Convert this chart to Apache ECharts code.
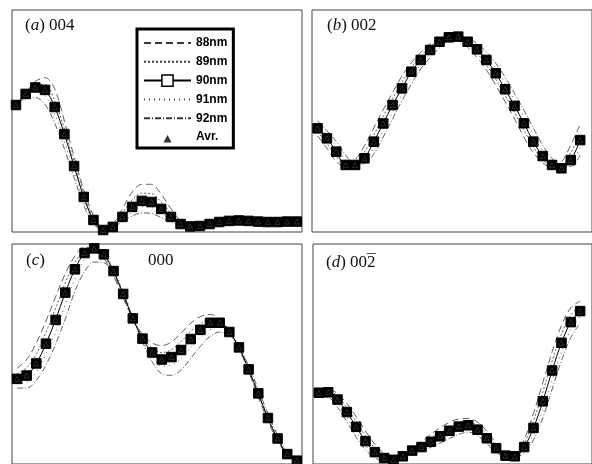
<!DOCTYPE html>
<html><head><meta charset="utf-8">
<script src="https://cdn.jsdelivr.net/npm/echarts@6/dist/echarts.min.js"></script>
<style>html,body{margin:0;padding:0;background:#fff}#c{width:592px;height:464px}</style>
</head><body><div id="c"></div>
<script>
// Series names
const names = ['88nm', '89nm', '90nm', '91nm', '92nm', 'Avr.'];
// Panel labels
const panelLabels = ['(a) 004', '(b) 002', '(c) 000', '(d) 002 (bar over last 2)'];

// Panel (a) 004 — intensity (arb. units, 0..100 of panel height), one value per sample
const a88 = [55.0, 62.5, 67.8, 69.5, 64.5, 50.0, 34.0, 19.0, 7.5, 1.5, 3.5, 10.5, 18.0, 21.5, 21.5, 17.0, 10.5, 5.0, 2.5, 2.5, 3.5, 4.8, 5.4, 5.6, 5.3, 4.9, 4.6, 4.6, 4.8, 4.8];
const a89 = [56.0, 62.3, 66.3, 66.5, 59.0, 46.5, 31.5, 17.5, 6.3, 1.2, 2.8, 8.5, 14.5, 17.5, 17.3, 13.5, 8.5, 4.2, 2.5, 2.6, 3.5, 4.6, 5.2, 5.4, 5.1, 4.8, 4.5, 4.5, 4.7, 4.7];
const a90 = [57.2, 62.2, 65.1, 64.0, 56.3, 44.1, 29.7, 15.8, 5.4, 0.9, 2.3, 6.8, 11.3, 14.0, 13.5, 10.4, 6.8, 3.6, 2.5, 2.7, 3.6, 4.5, 5.0, 5.2, 5.0, 4.7, 4.5, 4.5, 4.7, 4.7];
const a91 = [57.5, 61.5, 63.5, 61.5, 53.0, 41.0, 27.0, 13.8, 4.5, 0.8, 2.0, 5.8, 9.2, 11.3, 11.0, 8.5, 5.5, 3.3, 2.6, 2.9, 3.8, 4.5, 4.9, 5.0, 4.9, 4.6, 4.4, 4.4, 4.6, 4.6];
const a92 = [57.0, 60.0, 60.5, 57.5, 49.0, 37.5, 24.5, 12.0, 3.8, 0.8, 1.8, 4.8, 7.2, 8.6, 8.3, 6.5, 4.5, 3.0, 2.7, 3.0, 3.9, 4.4, 4.7, 4.8, 4.7, 4.5, 4.3, 4.3, 4.5, 4.5];

// Panel (b) 002
const b88 = [43.3, 37.7, 31.7, 29.6, 32.5, 38.8, 46.9, 55.1, 62.8, 70.3, 76.2, 80.9, 84.8, 87.2, 87.9, 86.3, 83.2, 78.7, 73.0, 66.1, 58.7, 50.9, 42.8, 35.8, 31.2, 29.1, 31.5, 39.2, 48.5];
const b89 = [45.0, 40.0, 34.0, 29.8, 31.3, 36.0, 43.7, 52.0, 60.0, 67.5, 74.2, 79.2, 83.4, 86.4, 87.8, 87.1, 84.4, 80.5, 75.3, 68.8, 61.5, 53.9, 45.9, 38.3, 32.7, 29.6, 30.1, 35.7, 44.7];
const b90 = [46.7, 42.2, 36.2, 30.2, 30.2, 33.2, 40.7, 48.9, 57.2, 64.7, 72.2, 77.5, 82.0, 85.7, 87.7, 88.0, 85.7, 82.3, 77.5, 71.5, 64.3, 56.8, 49.0, 40.7, 34.2, 30.2, 28.7, 32.4, 41.4];
const b91 = [48.4, 43.9, 38.4, 32.4, 29.8, 32.1, 37.9, 45.9, 54.1, 61.9, 69.4, 75.5, 80.3, 84.3, 87.0, 87.9, 86.6, 83.6, 79.3, 73.7, 67.0, 59.6, 51.9, 43.8, 36.6, 31.7, 29.3, 31.0, 38.1];
const b92 = [50.1, 45.6, 40.7, 34.7, 30.2, 30.9, 35.1, 42.8, 51.0, 59.1, 66.6, 73.5, 78.6, 82.9, 86.2, 87.8, 87.4, 84.9, 81.1, 76.0, 69.7, 62.4, 54.9, 46.9, 39.1, 33.2, 29.8, 29.6, 34.7];

// Panel (c) 000
const c88 = [43.5, 47.5, 55.0, 65.0, 76.0, 86.5, 94.5, 98.5, 98.0, 93.5, 85.5, 75.5, 66.0, 59.0, 55.0, 53.8, 55.5, 59.5, 64.0, 67.0, 68.0, 66.0, 60.5, 52.5, 42.0, 30.5, 19.5, 10.5, 4.0, 1.2];
const c89 = [41.0, 43.8, 50.0, 59.8, 70.8, 82.3, 91.5, 97.3, 98.2, 94.5, 86.6, 76.4, 66.0, 58.0, 52.8, 50.6, 52.0, 55.6, 60.4, 63.5, 66.0, 65.2, 60.3, 52.8, 42.5, 31.3, 20.2, 11.0, 4.2, 1.3];
const c90 = [38.7, 40.2, 45.7, 54.7, 65.5, 77.9, 88.5, 95.9, 98.0, 95.3, 87.7, 77.3, 66.2, 57.0, 50.7, 47.5, 48.6, 51.8, 56.8, 61.0, 64.2, 64.2, 60.0, 53.0, 43.0, 32.1, 20.9, 11.6, 4.5, 1.5];
const c91 = [36.5, 37.2, 41.8, 50.0, 60.0, 72.5, 84.0, 92.8, 96.8, 95.5, 88.5, 78.5, 67.0, 56.5, 48.8, 44.5, 45.0, 48.0, 53.0, 57.8, 61.0, 62.3, 59.5, 53.5, 44.0, 33.2, 22.0, 12.5, 5.0, 1.8];
const c92 = [34.5, 34.5, 38.0, 45.0, 54.5, 66.0, 78.5, 87.5, 91.8, 91.5, 86.0, 77.5, 66.5, 55.5, 46.5, 41.0, 40.3, 42.8, 48.0, 53.5, 58.0, 60.0, 58.5, 53.5, 44.5, 34.0, 23.0, 13.2, 5.5, 2.0];

// Panel (d) 00-2
const d88 = [33.5, 34.0, 32.0, 27.5, 21.5, 15.0, 9.0, 4.8, 3.0, 3.8, 6.8, 10.2, 13.5, 16.5, 19.0, 20.5, 20.7, 19.0, 15.0, 9.5, 5.0, 4.5, 11.0, 23.0, 37.0, 51.0, 63.0, 71.0, 74.0];
const d89 = [33.0, 33.3, 30.8, 25.6, 19.2, 12.8, 7.2, 3.8, 2.4, 3.6, 6.4, 9.0, 11.8, 14.5, 17.0, 18.8, 19.2, 17.4, 13.4, 8.4, 4.4, 4.0, 9.3, 19.7, 32.8, 46.8, 59.0, 67.8, 71.8];
const d90 = [32.4, 32.6, 29.3, 23.6, 16.9, 10.4, 5.4, 2.7, 1.9, 3.5, 6.1, 7.7, 10.1, 12.6, 15.1, 17.0, 17.6, 15.6, 11.7, 7.2, 3.8, 3.5, 7.7, 16.4, 28.5, 42.5, 55.1, 64.5, 69.5];
const d91 = [31.5, 31.5, 27.5, 21.3, 14.5, 8.3, 3.9, 2.0, 1.8, 3.5, 5.7, 7.0, 8.8, 11.0, 13.3, 15.2, 16.0, 14.2, 10.3, 6.2, 3.3, 3.2, 6.3, 13.5, 24.5, 38.0, 51.0, 61.0, 67.0];
const d92 = [30.5, 30.2, 25.8, 19.2, 12.2, 6.5, 2.8, 1.5, 1.8, 3.5, 5.3, 6.3, 7.6, 9.5, 11.6, 13.5, 14.5, 13.0, 9.2, 5.5, 3.0, 3.0, 5.2, 11.0, 21.0, 34.0, 47.0, 57.5, 64.0];

const panels = [
  {s88: a88, s89: a89, s90: a90, s91: a91, s92: a92, xmin: -0.41, xmax: 29.54},
  {s88: b88, s89: b89, s90: b90, s91: b91, s92: b92, xmin: -0.59, xmax: 29.26},
  {s88: c88, s89: c89, s90: c90, s91: c91, s92: c92, xmin: -0.52, xmax: 29.53},
  {s88: d88, s89: d89, s90: d90, s91: d91, s92: d92, xmin: -0.625, xmax: 29.27}
];
const grids = [
  {left: 12, top: 10, width: 290, height: 222},
  {left: 312, top: 10, width: 288, height: 222},
  {left: 12, top: 244, width: 290, height: 222},
  {left: 313, top: 244, width: 287, height: 222}
];
const dash = {'88nm': [7, 4], '89nm': [2, 2], '91nm': [1, 4], '92nm': [6, 2, 1, 2]};
const pairs = arr => arr.map((v, i) => [i, v]);

const series = [];
panels.forEach((p, k) => {
  [['88nm', p.s88], ['89nm', p.s89], ['91nm', p.s91], ['92nm', p.s92]].forEach(([n, arr]) => {
    series.push({
      name: n, type: 'line', xAxisIndex: k, yAxisIndex: k, data: pairs(arr),
      smooth: 0.35, symbol: 'none', silent: true, z: 2,
      color: '#3a3a3a',
      lineStyle: {color: '#3a3a3a', width: 0.8, type: dash[n]}
    });
  });
  series.push({
    name: '90nm', type: 'line', xAxisIndex: k, yAxisIndex: k, data: pairs(p.s90),
    smooth: 0.35, symbol: 'rect', symbolSize: 9.5, showSymbol: true, z: 4,
    lineStyle: {color: '#000', width: 1},
    itemStyle: {color: '#000', borderColor: '#000', borderWidth: 1}
  });
  series.push({
    name: 'Avr.', type: 'scatter', xAxisIndex: k, yAxisIndex: k, data: pairs(p.s90),
    symbol: 'triangle', symbolSize: 5, z: 5,
    itemStyle: {color: '#000', borderColor: '#aaa', borderWidth: 0.3}
  });
});

const serif = "'Liberation Serif', 'DejaVu Serif', serif";
const rich = {
  n: {fontFamily: serif, fontSize: 17, fontWeight: 'normal', color: '#111'},
  i: {fontFamily: serif, fontSize: 17, fontStyle: 'italic', fontWeight: 'normal', color: '#111'}
};
const ttl = (left, top, text) => ({left, top, padding: 0, text, textStyle: {rich, fontWeight: 'normal'}});
const option = {
  animation: false,
  backgroundColor: '#fff',
  grid: grids.map(g => Object.assign({show: true, borderColor: '#444', borderWidth: 1, backgroundColor: 'transparent'}, g)),
  xAxis: panels.map((p, k) => ({type: 'value', gridIndex: k, min: p.xmin, max: p.xmax,
    axisLine: {show: false}, axisTick: {show: false}, axisLabel: {show: false}, splitLine: {show: false}})),
  yAxis: panels.map((p, k) => ({type: 'value', gridIndex: k, min: 0, max: 100,
    axisLine: {show: false}, axisTick: {show: false}, axisLabel: {show: false}, splitLine: {show: false}})),
  title: [
    ttl(25, 17, '{n|(}{i|a}{n|) 004}'),
    ttl(327, 17, '{n|(}{i|b}{n|) 002}'),
    ttl(26, 252, '{n|(}{i|c}{n|)}'),
    ttl(148, 252, '{n|000}'),
    ttl(326, 254, '{n|(}{i|d}{n|) 002}'),
    ttl(367, 253, '{n|\u00AF}')
  ],
  legend: {
    orient: 'vertical', left: 137, top: 29,
    itemWidth: 47, itemHeight: 14, itemGap: 4.8,
    padding: [7, 6, 4, 6],
    borderColor: '#000', borderWidth: 3, backgroundColor: '#fff',
    selectedMode: false,
    textStyle: {fontFamily: "'Liberation Sans', Arial, sans-serif", fontWeight: 'bold', fontSize: 12, color: '#000', lineHeight: 14},
    data: [
      {name: '88nm', itemStyle: {opacity: 0}},
      {name: '89nm', itemStyle: {opacity: 0}},
      {name: '90nm', itemStyle: {color: '#fff', borderColor: '#000', borderWidth: 1.5}},
      {name: '91nm', itemStyle: {opacity: 0}},
      {name: '92nm', itemStyle: {opacity: 0}},
      {name: 'Avr.', icon: 'path://M0,0M47,14M19.5,12.5L23.5,5L27.5,12.5Z', itemStyle: {color: '#000', borderWidth: 0}}
    ]
  },
  series
};
const chart = echarts.init(document.getElementById('c'), null, {renderer: 'canvas'});
chart.setOption(option);
</script></body></html>
